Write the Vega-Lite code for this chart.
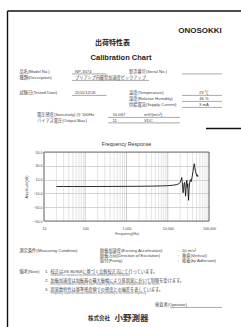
{
  "$schema": "https://vega.github.io/schema/vega-lite/v6.json",
  "width": 241,
  "height": 327,
  "autosize": "none",
  "padding": 0,
  "background": "white",
  "config": {
    "view": {"stroke": null},
    "font": "Liberation Sans, Noto Sans CJK JP",
    "text": {"font": "Liberation Sans, Noto Sans CJK JP"}
  },
  "resolve": {"scale": {"x": "independent", "y": "independent"}},
  "layer": [
    {
      "layer": [
        {
          "data": {
            "values": [
              {"f": 10, "decade": true}, {"f": 20, "decade": false}, {"f": 30, "decade": false}, {"f": 40, "decade": false}, {"f": 50, "decade": false}, {"f": 60, "decade": false}, {"f": 70, "decade": false}, {"f": 80, "decade": false}, {"f": 90, "decade": false},
              {"f": 100, "decade": true}, {"f": 200, "decade": false}, {"f": 300, "decade": false}, {"f": 400, "decade": false}, {"f": 500, "decade": false}, {"f": 600, "decade": false}, {"f": 700, "decade": false}, {"f": 800, "decade": false}, {"f": 900, "decade": false},
              {"f": 1000, "decade": true}, {"f": 2000, "decade": false}, {"f": 3000, "decade": false}, {"f": 4000, "decade": false}, {"f": 5000, "decade": false}, {"f": 6000, "decade": false}, {"f": 7000, "decade": false}, {"f": 8000, "decade": false}, {"f": 9000, "decade": false},
              {"f": 10000, "decade": true}, {"f": 20000, "decade": false}, {"f": 30000, "decade": false}, {"f": 40000, "decade": false}, {"f": 50000, "decade": false}, {"f": 60000, "decade": false}, {"f": 70000, "decade": false}, {"f": 80000, "decade": false}, {"f": 90000, "decade": false},
              {"f": 100000, "decade": true}
            ]
          },
          "mark": {"type": "rule", "strokeWidth": 0.5},
          "encoding": {
            "x": {"field": "f", "type": "quantitative"},
            "y": {"datum": -50, "type": "quantitative"},
            "y2": {"datum": 50},
            "stroke": {"condition": {"test": "datum.decade", "value": "#9a9a9a"}, "value": "#c6c6c6"}
          }
        },
        {
          "data": {
            "values": [
              {"freq": 20, "amp": 0}, {"freq": 30, "amp": 0}, {"freq": 50, "amp": 0}, {"freq": 100, "amp": 0},
              {"freq": 200, "amp": 0}, {"freq": 500, "amp": 0.1}, {"freq": 1000, "amp": 0.2}, {"freq": 2000, "amp": 0.3},
              {"freq": 4000, "amp": 0.5}, {"freq": 7000, "amp": 0.8}, {"freq": 10000, "amp": 1.2}, {"freq": 13000, "amp": 1.8},
              {"freq": 16000, "amp": 2.6}, {"freq": 18500, "amp": 3.8}, {"freq": 20000, "amp": 6}, {"freq": 21000, "amp": 9},
              {"freq": 21800, "amp": 13}, {"freq": 22400, "amp": 7}, {"freq": 23000, "amp": -2}, {"freq": 23600, "amp": -9},
              {"freq": 24200, "amp": -4}, {"freq": 24800, "amp": 4}, {"freq": 25600, "amp": 6}, {"freq": 26300, "amp": -2},
              {"freq": 27000, "amp": -14}, {"freq": 27600, "amp": -6}, {"freq": 28300, "amp": 5}, {"freq": 29000, "amp": 9},
              {"freq": 29800, "amp": -1}, {"freq": 30500, "amp": 4}, {"freq": 31300, "amp": -12}, {"freq": 32000, "amp": -20},
              {"freq": 32800, "amp": -4}, {"freq": 34000, "amp": 6}, {"freq": 35500, "amp": 10}, {"freq": 37000, "amp": 7},
              {"freq": 39000, "amp": 14}, {"freq": 41000, "amp": 22}, {"freq": 42500, "amp": 29}, {"freq": 44000, "amp": 33},
              {"freq": 45500, "amp": 27}, {"freq": 47000, "amp": 22}, {"freq": 49000, "amp": 18}, {"freq": 51000, "amp": 15},
              {"freq": 52500, "amp": 17}, {"freq": 54000, "amp": 14}
            ]
          },
          "mark": {"type": "line", "color": "#151515", "strokeWidth": 0.9},
          "encoding": {
            "x": {
              "field": "freq", "type": "quantitative",
              "scale": {"type": "log", "domain": [10, 100000], "range": [44, 209], "nice": false},
              "axis": {
                "orient": "bottom", "offset": -106,
                "values": [10, 100, 1000, 10000, 100000],
                "format": ",",
                "grid": false, "ticks": false, "domain": false,
                "labelFontSize": 3.6, "labelColor": "#444", "labelPadding": 5,
                "labelOverlap": false, "labelFlush": false, "labelBound": false,
                "title": "Frequency(Hz)", "titleFontSize": 3.6, "titleFontWeight": "normal", "titleColor": "#444", "titlePadding": 2
              }
            },
            "y": {
              "field": "amp", "type": "quantitative",
              "scale": {"domain": [-50, 50], "range": [221, 152], "nice": false, "zero": false},
              "axis": {
                "orient": "left", "offset": -44,
                "values": [-50,-45,-40,-35,-30,-25,-20,-15,-10,-5,0,5,10,15,20,25,30,35,40,45,50],
                "labelExpr": "datum.value % 10 === 0 ? format(datum.value, '.1f') : ''",
                "grid": true,
                "gridColor": {"condition": {"test": "datum.value % 10 === 0", "value": "#a8a8a8"}, "value": "#cfcfcf"},
                "gridWidth": 0.5,
                "ticks": false, "domain": false,
                "labelFontSize": 3.6, "labelColor": "#444", "labelPadding": 2, "labelOverlap": false, "labelBound": false,
                "title": "Amplitude(dB)", "titleFontSize": 3.6, "titleFontWeight": "normal", "titleColor": "#444", "titlePadding": 4
              }
            }
          }
        },
        {
          "data": {"values": [{"title": "Frequency Response", "f0": 10, "f1": 100000, "a0": -50, "a1": 50, "fc": 1000}]},
          "layer": [
            {
              "mark": {"type": "rect", "fill": null, "stroke": "#555555", "strokeWidth": 0.8},
              "encoding": {
                "x": {"field": "f0", "type": "quantitative"},
                "x2": {"field": "f1"},
                "y": {"field": "a0", "type": "quantitative"},
                "y2": {"field": "a1"}
              }
            },
            {
              "mark": {"type": "text", "fontSize": 5.2, "dy": -8, "color": "#333"},
              "encoding": {
                "x": {"field": "fc", "type": "quantitative"},
                "y": {"field": "a1", "type": "quantitative"},
                "text": {"field": "title"}
              }
            }
          ]
        }
      ]
    },
    {
      "data": {
        "values": [
          {"role": "border_h", "line": 1, "col": 1, "col2": 27},
          {"role": "border_v", "line": 1, "line2": 24, "col": 1},
          {"role": "thick", "line": 12, "col": 25, "col2": 27},
          {"role": "underline", "line": 5, "col": 6, "col2": 10},
          {"role": "underline", "line": 5, "col": 22, "col2": 26},
          {"role": "underline", "line": 6, "col": 6, "col2": 17},
          {"role": "underline", "line": 7, "col": 6, "col2": 10},
          {"role": "underline", "line": 7, "col": 22, "col2": 26},
          {"role": "underline", "line": 8, "col": 22, "col2": 26},
          {"role": "underline", "line": 9, "col": 22, "col2": 26},
          {"role": "underline", "line": 10, "col": 11, "col2": 21},
          {"role": "underline", "line": 11, "col": 11, "col2": 21},
          {"role": "underline", "line": 22, "col": 19, "col2": 26},
          {"role": "logo", "line": 2, "col": 23, "text": "ONOSOKKI"},
          {"role": "title_ja", "line": 3, "col": 12, "text": "出荷特性表"},
          {"role": "title_en", "line": 4, "col": 14, "text": "Calibration Chart"},
          {"role": "form", "line": 5, "col": 2, "text": "品名(Model No.)"},
          {"role": "form", "line": 5, "col": 7, "text": "NP-3574"},
          {"role": "form", "line": 5, "col": 15, "text": "製造番号(Serial No.)"},
          {"role": "form", "line": 6, "col": 2, "text": "種類(Description)"},
          {"role": "form", "line": 6, "col": 7, "text": "プリアンプ内蔵型加速度ピックアップ"},
          {"role": "form", "line": 7, "col": 2, "text": "試験日(Tested Date)"},
          {"role": "form", "line": 7, "col": 7, "text": "2011/12/26"},
          {"role": "form", "line": 7, "col": 15, "text": "温度(Temperature)"},
          {"role": "form", "line": 8, "col": 15, "text": "湿度(Relative Humidity)"},
          {"role": "form", "line": 9, "col": 15, "text": "供給電流(Supply Current)"},
          {"role": "form_center", "line": 7, "col": 24, "text": "23 ℃"},
          {"role": "form_center", "line": 8, "col": 24, "text": "46 %"},
          {"role": "form_center", "line": 9, "col": 24, "text": "3 mA"},
          {"role": "form", "line": 10, "col": 3, "text": "電圧感度(Sensitivity) @ 160Hz"},
          {"role": "form", "line": 10, "col": 12, "text": "10.067"},
          {"role": "form", "line": 10, "col": 16, "text": "mV/(m/s²)"},
          {"role": "form", "line": 11, "col": 3, "text": "バイアス電圧(Output Bias)"},
          {"role": "form", "line": 11, "col": 12, "text": "11"},
          {"role": "form", "line": 11, "col": 16, "text": "VDC"},
          {"role": "form", "line": 13, "col": 2, "text": "測定条件(Measuring Condition)"},
          {"role": "form", "line": 13, "col": 9, "text": "励振加速度(Exciting Acceleration)"},
          {"role": "form", "line": 13, "col": 20, "text": ":"},
          {"role": "form", "line": 13, "col": 22, "text": "10 m/s²"},
          {"role": "form", "line": 14, "col": 9, "text": "励振方向(Direction of Excitation)"},
          {"role": "form", "line": 14, "col": 20, "text": ":"},
          {"role": "form", "line": 14, "col": 22, "text": "垂直(Vertical)"},
          {"role": "form", "line": 15, "col": 9, "text": "取付(Fixing)"},
          {"role": "form", "line": 15, "col": 20, "text": ":"},
          {"role": "form", "line": 15, "col": 22, "text": "接着(by Adhesion)"},
          {"role": "form", "line": 16, "col": 2, "text": "備考(Note)"},
          {"role": "form", "line": 16, "col": 4, "text": "1."},
          {"role": "form", "line": 16, "col": 5, "text": "校正はJIS B0908に基づく比較校正法にて行っています。"},
          {"role": "note_en", "line": 17, "col": 5, "text": "Calibration is carried out by comparison method based on JIS B0908."},
          {"role": "form", "line": 18, "col": 4, "text": "2."},
          {"role": "form", "line": 18, "col": 5, "text": "加振加速度は加振器の最大振幅により低周波において制限を受けます。"},
          {"role": "note_en", "line": 19, "col": 5, "text": "Exciting acceleration is limited at lower frequency by the confines of displacement of the exciter."},
          {"role": "form", "line": 20, "col": 4, "text": "3."},
          {"role": "form", "line": 20, "col": 5, "text": "周波数特性は基準感度値での感度との偏差を表しています。"},
          {"role": "note_en", "line": 21, "col": 5, "text": "Frequency response indicates difference from sensitivity at the reference frequency."},
          {"role": "form", "line": 22, "col": 18, "text": "検査者(Operator)"},
          {"role": "company_small", "line": 23, "col": 8, "text": "株式会社"},
          {"role": "company_big", "line": 23, "col": 13, "text": "小野測器"}
        ]
      },
      "encoding": {
        "x": {
          "field": "col", "type": "quantitative", "axis": null,
          "scale": {
            "domain": [1,2,3,4,5,6,7,8,9,10,11,12,13,14,15,16,17,18,19,20,21,22,23,24,25,26,27],
            "range": [7.5,19.5,37,45,50.5,72,75,88,100,106.5,108,112.5,114.5,121,129,144,149,155,170,178,180,182,200,204,206,222,241],
            "zero": false, "nice": false
          }
        },
        "y": {
          "field": "line", "type": "quantitative", "axis": null,
          "scale": {
            "domain": [1,2,3,4,5,6,7,8,9,10,11,12,13,14,15,16,17,18,19,20,21,22,23,24],
            "range": [11,31,43,58,71.5,78,93,99,105,115,120.5,128.5,251,256,261,271.5,275.5,280.5,284.5,289.5,293.5,305,317.5,327],
            "zero": false, "nice": false
          }
        }
      },
      "layer": [
        {"transform": [{"filter": "datum.role === 'border_h' || datum.role === 'thick'"}], "mark": {"type": "rule", "color": "#111", "strokeWidth": 1.4}, "encoding": {"x2": {"field": "col2"}}},
        {"transform": [{"filter": "datum.role === 'border_v'"}], "mark": {"type": "rule", "color": "#111", "strokeWidth": 1.4}, "encoding": {"y2": {"field": "line2"}}},
        {"transform": [{"filter": "datum.role === 'underline'"}], "mark": {"type": "rule", "color": "#555", "strokeWidth": 0.5, "yOffset": 2.4}, "encoding": {"x2": {"field": "col2"}}},
        {"transform": [{"filter": "datum.role === 'logo'"}], "mark": {"type": "text", "font": "Liberation Sans", "fontSize": 8, "fontWeight": "bold", "align": "center", "baseline": "middle", "color": "#222"}, "encoding": {"text": {"field": "text"}}},
        {"transform": [{"filter": "datum.role === 'title_ja'"}], "mark": {"type": "text", "font": "Noto Sans CJK JP", "fontSize": 7, "fontWeight": "bold", "align": "center", "baseline": "middle", "color": "#222"}, "encoding": {"text": {"field": "text"}}},
        {"transform": [{"filter": "datum.role === 'title_en'"}], "mark": {"type": "text", "font": "Liberation Sans", "fontSize": 7.5, "fontWeight": "bold", "align": "center", "baseline": "middle", "color": "#222"}, "encoding": {"text": {"field": "text"}}},
        {"transform": [{"filter": "datum.role === 'form'"}], "mark": {"type": "text", "fontSize": 4.2, "align": "left", "baseline": "middle", "color": "#444"}, "encoding": {"text": {"field": "text"}}},
        {"transform": [{"filter": "datum.role === 'form_center'"}], "mark": {"type": "text", "fontSize": 4.2, "align": "center", "baseline": "middle", "color": "#444"}, "encoding": {"text": {"field": "text"}}},
        {"transform": [{"filter": "datum.role === 'note_en'"}], "mark": {"type": "text", "fontSize": 2.6, "align": "left", "baseline": "middle", "color": "#777"}, "encoding": {"text": {"field": "text"}}},
        {"transform": [{"filter": "datum.role === 'company_small'"}], "mark": {"type": "text", "font": "Noto Sans CJK JP", "fontSize": 5.5, "fontWeight": "bold", "align": "left", "baseline": "middle", "color": "#333"}, "encoding": {"text": {"field": "text"}}},
        {"transform": [{"filter": "datum.role === 'company_big'"}], "mark": {"type": "text", "font": "Noto Sans CJK JP", "fontSize": 8.5, "fontWeight": "bold", "align": "left", "baseline": "middle", "color": "#333"}, "encoding": {"text": {"field": "text"}}}
      ]
    }
  ]
}
